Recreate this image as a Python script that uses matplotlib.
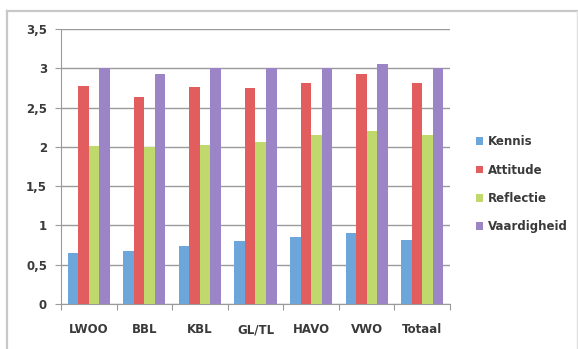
import matplotlib
matplotlib.use('Agg')

import numpy as np
import matplotlib.pyplot as plt
from matplotlib.lines import Line2D
from matplotlib.ticker import FuncFormatter

# Scores per schooltype
categories = ["LWOO", "BBL", "KBL", "GL/TL", "HAVO", "VWO", "Totaal"]
kennis = [0.65, 0.67, 0.74, 0.80, 0.85, 0.90, 0.82]
attitude = [2.77, 2.64, 2.76, 2.75, 2.81, 2.93, 2.81]
reflectie = [2.01, 2.00, 2.02, 2.06, 2.15, 2.20, 2.15]
vaardigheid = [3.00, 2.93, 3.00, 3.00, 3.00, 3.06, 3.00]

series = [
    ("Kennis", kennis, "#6da6da"),
    ("Attitude", attitude, "#e15d5e"),
    ("Reflectie", reflectie, "#bfd96c"),
    ("Vaardigheid", vaardigheid, "#9b85c7"),
]

plt.rcParams['font.family'] = ['DejaVu Sans']
text_color = "#3a3a3a"

fig = plt.figure(figsize=(5.78, 3.49), dpi=100)
fig.patch.set_facecolor("white")

# light frame: top, left and right edges only
W, H = 578.0, 349.0
frame = dict(transform=fig.transFigure, color="#c8c8c8", linewidth=1.6)
fig.add_artist(Line2D([7 / W, 577 / W], [1 - 11 / H, 1 - 11 / H], **frame))
fig.add_artist(Line2D([7 / W, 7 / W], [0, 1 - 11 / H], **frame))
fig.add_artist(Line2D([577 / W, 577 / W], [0, 1 - 11 / H],
                      transform=fig.transFigure, color="#e0e0e0", linewidth=1.0))

ax = fig.add_axes([61 / W, 1 - 304 / H, 389 / W, 275 / H])

x = np.arange(len(categories))
bar_w = 0.19
offsets = (np.arange(len(series)) - 1.5) * bar_w

for (name, vals, color), off in zip(series, offsets):
    ax.bar(x + off, vals, width=bar_w, color=color, label=name,
           edgecolor="none", zorder=3)

ax.set_xlim(-0.5, len(categories) - 0.5)
ax.set_ylim(0, 3.5)
ax.set_yticks(np.arange(0, 3.51, 0.5))
ax.yaxis.set_major_formatter(FuncFormatter(
    lambda v, _: ("%g" % v).replace(".", ",")))

ax.yaxis.grid(True, color="#9a9a9a", linewidth=1.0, zorder=0)
ax.set_axisbelow(True)

for side in ["top", "right"]:
    ax.spines[side].set_visible(False)
ax.spines["left"].set_color("#9a9a9a")
ax.spines["bottom"].set_color("#9a9a9a")

# category labels centred, tick marks between groups
ax.set_xticks(np.arange(-0.5, len(categories), 1.0))
ax.set_xticklabels([])
ax.set_xticks(x, minor=True)
ax.set_xticklabels(categories, minor=True, fontsize=8.5, fontweight="bold",
                   color=text_color)
ax.tick_params(axis="x", which="major", length=4, color="#9a9a9a")
ax.tick_params(axis="x", which="minor", length=0, pad=14)
ax.tick_params(axis="y", length=4, color="#9a9a9a", labelsize=8.5,
               labelcolor=text_color, pad=6)
for lbl in ax.get_yticklabels():
    lbl.set_fontweight("bold")

leg = ax.legend(loc="center left", bbox_to_anchor=(1.04, 0.435), frameon=False,
                fontsize=8.5, handlelength=0.6, handleheight=0.6,
                handletextpad=0.4, labelspacing=1.3)
for t in leg.get_texts():
    t.set_color(text_color)
    t.set_fontweight("bold")

fig.savefig("out.png", dpi=100)
